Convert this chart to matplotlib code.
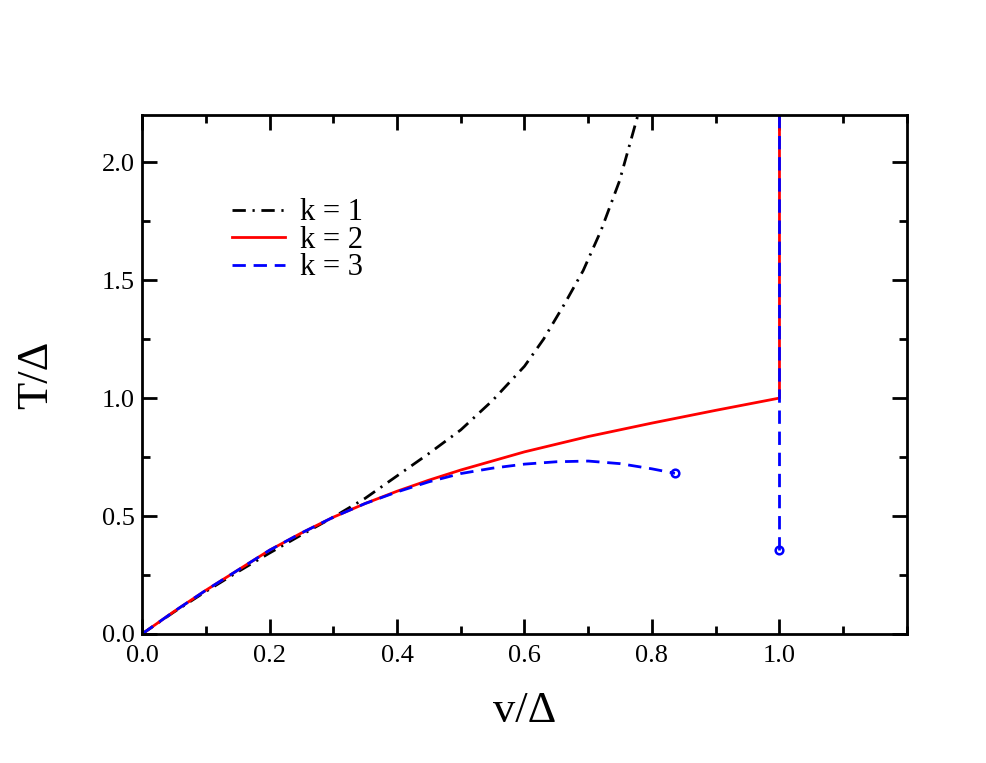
"""T/Delta versus v/Delta for k = 1, 2, 3."""
import matplotlib
matplotlib.use("Agg")
import matplotlib.pyplot as plt
from matplotlib.ticker import MultipleLocator

plt.rcParams["font.family"] = ["Liberation Serif", "DejaVu Serif"]

# k = 1 (diverges near v/Delta ~ 0.78)
v_k1 = [0.0, 0.05, 0.1, 0.15, 0.2, 0.25, 0.3, 0.35, 0.4, 0.45, 0.5, 0.55, 0.6,
        0.63, 0.663, 0.692, 0.72, 0.749, 0.778]
T_k1 = [0.0, 0.093, 0.18, 0.263, 0.343, 0.42, 0.495, 0.575, 0.67, 0.765, 0.865, 0.99, 1.135,
        1.25, 1.40, 1.54, 1.71, 1.92, 2.2]

# k = 2 (ends at v = Delta, then vertical)
v_k2 = [0.0, 0.05, 0.1, 0.15, 0.2, 0.25, 0.3, 0.35, 0.4, 0.45, 0.5, 0.6, 0.7, 0.8, 0.9, 1.0, 1.0]
T_k2 = [0.0, 0.095, 0.185, 0.27, 0.355, 0.428, 0.495, 0.553, 0.605, 0.652, 0.695, 0.772, 0.837,
        0.894, 0.948, 1.0, 2.2]

# k = 3, lower branch ends at an open circle
v_k3a = [0.0, 0.05, 0.1, 0.15, 0.2, 0.25, 0.3, 0.35, 0.4, 0.45, 0.5, 0.55, 0.6, 0.65,
         0.7, 0.75, 0.8, 0.836]
T_k3a = [0.0, 0.095, 0.185, 0.27, 0.355, 0.428, 0.495, 0.553, 0.602, 0.645, 0.68, 0.703, 0.72,
         0.73, 0.733, 0.722, 0.70, 0.681]
# k = 3, vertical branch at v = Delta
v_k3b = [1.0, 1.0]
T_k3b = [0.356, 2.2]

fig = plt.figure(figsize=(9.87, 7.63), dpi=100)
ax = fig.add_axes([0.1439, 0.1691, 0.9189 - 0.1439, 0.8493 - 0.1691])

ax.plot(v_k1, T_k1, color="black", lw=2, linestyle=(0, (4.8, 2.4, 0.8, 2.4)), label="k = 1")
ax.plot(v_k2, T_k2, color="red", lw=2, label="k = 2")
ax.plot(v_k3a, T_k3a, color="blue", lw=2, linestyle=(0, (4.8, 2.8)), label="k = 3")
ax.plot(v_k3b, T_k3b, color="blue", lw=2, linestyle=(0, (4.8, 2.8)))
ax.plot([v_k3a[-1]], [T_k3a[-1]], "o", ms=5.5, mfc="none", mec="blue", mew=1.8)
ax.plot([v_k3b[0]], [T_k3b[0]], "o", ms=5.5, mfc="none", mec="blue", mew=1.8)

ax.set_xlim(0, 1.2)
ax.set_ylim(0, 2.2)
ax.set_xticks([0.0, 0.2, 0.4, 0.6, 0.8, 1.0])
ax.xaxis.set_minor_locator(MultipleLocator(0.1))
ax.yaxis.set_major_locator(MultipleLocator(0.5))
ax.yaxis.set_minor_locator(MultipleLocator(0.25))
ax.set_xticklabels(["0.0", "0.2", "0.4", "0.6", "0.8", "1.0"])

ax.tick_params(which="both", direction="in", top=True, right=True, width=2, labelsize=19)
ax.tick_params(which="major", length=10.5)
ax.tick_params(which="minor", length=5.5)
ax.tick_params(axis="x", which="major", pad=8)
ax.tick_params(axis="y", which="major", pad=5)
for s in ax.spines.values():
    s.set_linewidth(2)

ax.set_xlabel("v/Δ", fontsize=32, labelpad=17)
ax.set_ylabel("T/Δ", fontsize=32, labelpad=33)

ax.legend(loc="upper left", bbox_to_anchor=(0.102, 0.863), frameon=False, fontsize=22,
          handlelength=1.73, handletextpad=0.49, labelspacing=-0.05, borderaxespad=0)

fig.savefig("out.png", dpi=100)
print("Saved out.png")
